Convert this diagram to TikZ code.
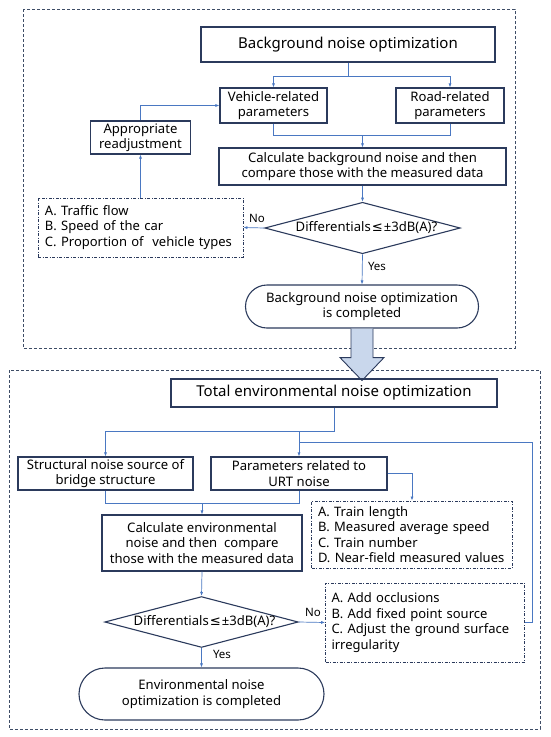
\documentclass[tikz,border=0pt]{standalone}
\usepackage{fontspec}
\setmainfont{Noto Sans}
\newfontfamily\symf{DejaVu Sans}
\usetikzlibrary{arrows.meta,shapes.geometric,shapes.misc}
\definecolor{boxc}{HTML}{2B3A5C}
\definecolor{arrc}{HTML}{4A78C2}
\definecolor{outc}{HTML}{3E4D66}
\definecolor{bigf}{HTML}{C9D7EC}
\newcommand{\leqsym}{\kern1pt{\symf ≤}\kern1pt}
\tikzset{
  bx/.style={draw=boxc,line width=1.1pt,rectangle,inner sep=0pt,align=center,
     font=\fontsize{13.1}{15.5}\selectfont},
  ttl/.style={bx,font=\fontsize{15}{17}\selectfont},
  lst/.style={draw=boxc,line width=0.8pt,dash pattern=on 3pt off 1.5pt on 1pt off 1.5pt,
     rectangle,inner sep=0pt,align=left,font=\fontsize{13}{15.5}\selectfont},
  dia/.style={draw=boxc,line width=1.1pt,diamond,aspect=3.8,inner sep=0pt,
     font=\fontsize{13.1}{15.5}\selectfont},
  term/.style={draw=boxc,line width=1.1pt,rounded rectangle,inner sep=0pt,align=center,
     font=\fontsize{13.1}{15.5}\selectfont},
  arr/.style={draw=arrc,line width=0.7pt,-{Latex[length=4pt,width=3pt]}},
  ln/.style={draw=arrc,line width=0.7pt},
  lbl/.style={font=\fontsize{11.5}{13}\selectfont,inner sep=0pt},
  outer/.style={draw=outc,line width=0.9pt,dash pattern=on 3pt off 2pt},
}
\begin{document}
\begin{tikzpicture}[x=1pt,y=-1pt]
\useasboundingbox (0,0) rectangle (550,737);
% outer frames
\draw[outer] (23,9) rectangle (515,348);
\draw[outer] (9,370) rectangle (540,729);
% top part
\node[ttl,minimum width=294pt,minimum height=35pt] (bg) at (348,44.5) {Background noise optimization};
\node[bx,minimum width=107pt,minimum height=35pt] (veh) at (273.5,105.5) {Vehicle-related\\parameters};
\node[bx,minimum width=108pt,minimum height=35pt] (road) at (450,105.5) {Road-related\\parameters};
\node[bx,minimum width=100pt,minimum height=33pt] (readj) at (140.5,137.5) {Appropriate\\readjustment};
\node[bx,minimum width=287pt,minimum height=37pt] (calc1) at (362.5,166.5) {Calculate background noise and then\\compare those with the measured data};
\node[dia,minimum width=191pt,minimum height=50pt] (dia1) at (362.5,228) {\hspace{8pt}Differentials\leqsym±3dB(A)?};
\node[lst,minimum width=205pt,minimum height=59pt,text width=191pt] (abc) at (140.5,227.5) {A. Traffic flow\\B. Speed of the car\\C. Proportion of~ vehicle types};
\node[term,minimum width=233pt,minimum height=43pt] (term1) at (362,306.5) {Background noise optimization\\is completed};
% top connectors
\draw[ln] (bg.south) -- ++(0,14) coordinate (b1);
\draw[arr] (b1) -| (veh.north);
\draw[arr] (b1) -| (road.north);
\coordinate (m1) at (362.5,135);
\draw[ln] (veh.south) |- (m1);
\draw[ln] (road.south) |- (m1);
\draw[arr] (m1) -- (calc1.north);
\draw[arr] (calc1.south) -- (dia1.north);
\draw[arr] (dia1.west) -- (abc.east);
\node[lbl] (no1) at (257,218) {No};
\draw[arr] (dia1.south) -- (term1.north);
\node[lbl] (yes1) at (377,266) {Yes};
\draw[arr] (abc.north) -- (readj.south);
\draw[arr] (readj.north) |- (veh.west);
% big arrow
\draw[draw=boxc,line width=0.9pt,fill=bigf] (term1.south) ++(-11,0) -- ++(0,29) -- ++(-11,0) -- ++(22,23) coordinate (tip) -- ++(22,-23) -- ++(-11,0) -- ++(0,-29);
% bottom part
\node[ttl,minimum width=326pt,minimum height=28pt] (total) at (334,393) {Total environmental noise optimization};
\node[bx,minimum width=175pt,minimum height=33pt] (struct) at (105.5,473.5) {Structural noise source of\\bridge structure};
\node[bx,minimum width=176pt,minimum height=33pt] (param) at (299,473.5) {Parameters related to\\URT noise};
\node[lst,minimum width=200.5pt,minimum height=67pt,text width=188pt] (train) at (412,534.5) {A. Train length\\B. Measured average speed\\C. Train number\\D. Near-field measured values};
\node[bx,minimum width=200pt,minimum height=56pt] (calc2) at (202,543) {Calculate environmental\\noise and then~ compare\\those with the measured data};
\node[dia,minimum width=193pt,minimum height=50pt] (dia2) at (201.5,622) {\hspace{6pt}Differentials\leqsym±3dB(A)?};
\node[lst,minimum width=199pt,minimum height=79pt,text width=187pt] (occ) at (425,622.5) {A. Add occlusions\\B. Add fixed point source\\C. Adjust the ground surface\\irregularity};
\node[term,minimum width=245pt,minimum height=52pt] (term2) at (201.5,694) {Environmental noise\\optimization is completed};
% bottom connectors
\draw[ln] (total.south) -- ++(0,24) coordinate (t1);
\draw[arr] (t1) -| (struct.north);
\draw[arr] (t1 -| param.north) -- (param.north);
\coordinate (fb) at (532,442);
\draw[ln] (occ.east) -| (fb) -- (fb -| param.north);
\draw[arr] (param.east) -| (train.north);
\coordinate (m2) at (202,503);
\draw[ln] (struct.south) |- (m2);
\draw[ln] (param.south) |- (m2);
\draw[arr] (m2) -- (calc2.north);
\draw[arr] (calc2.south) -- (dia2.north);
\draw[arr] (dia2.east) -- (occ.west);
\node[lbl] (no2) at (313,612) {No};
\draw[arr] (dia2.south) -- (term2.north);
\node[lbl] (yes2) at (222,654) {Yes};
\end{tikzpicture}
\end{document}
